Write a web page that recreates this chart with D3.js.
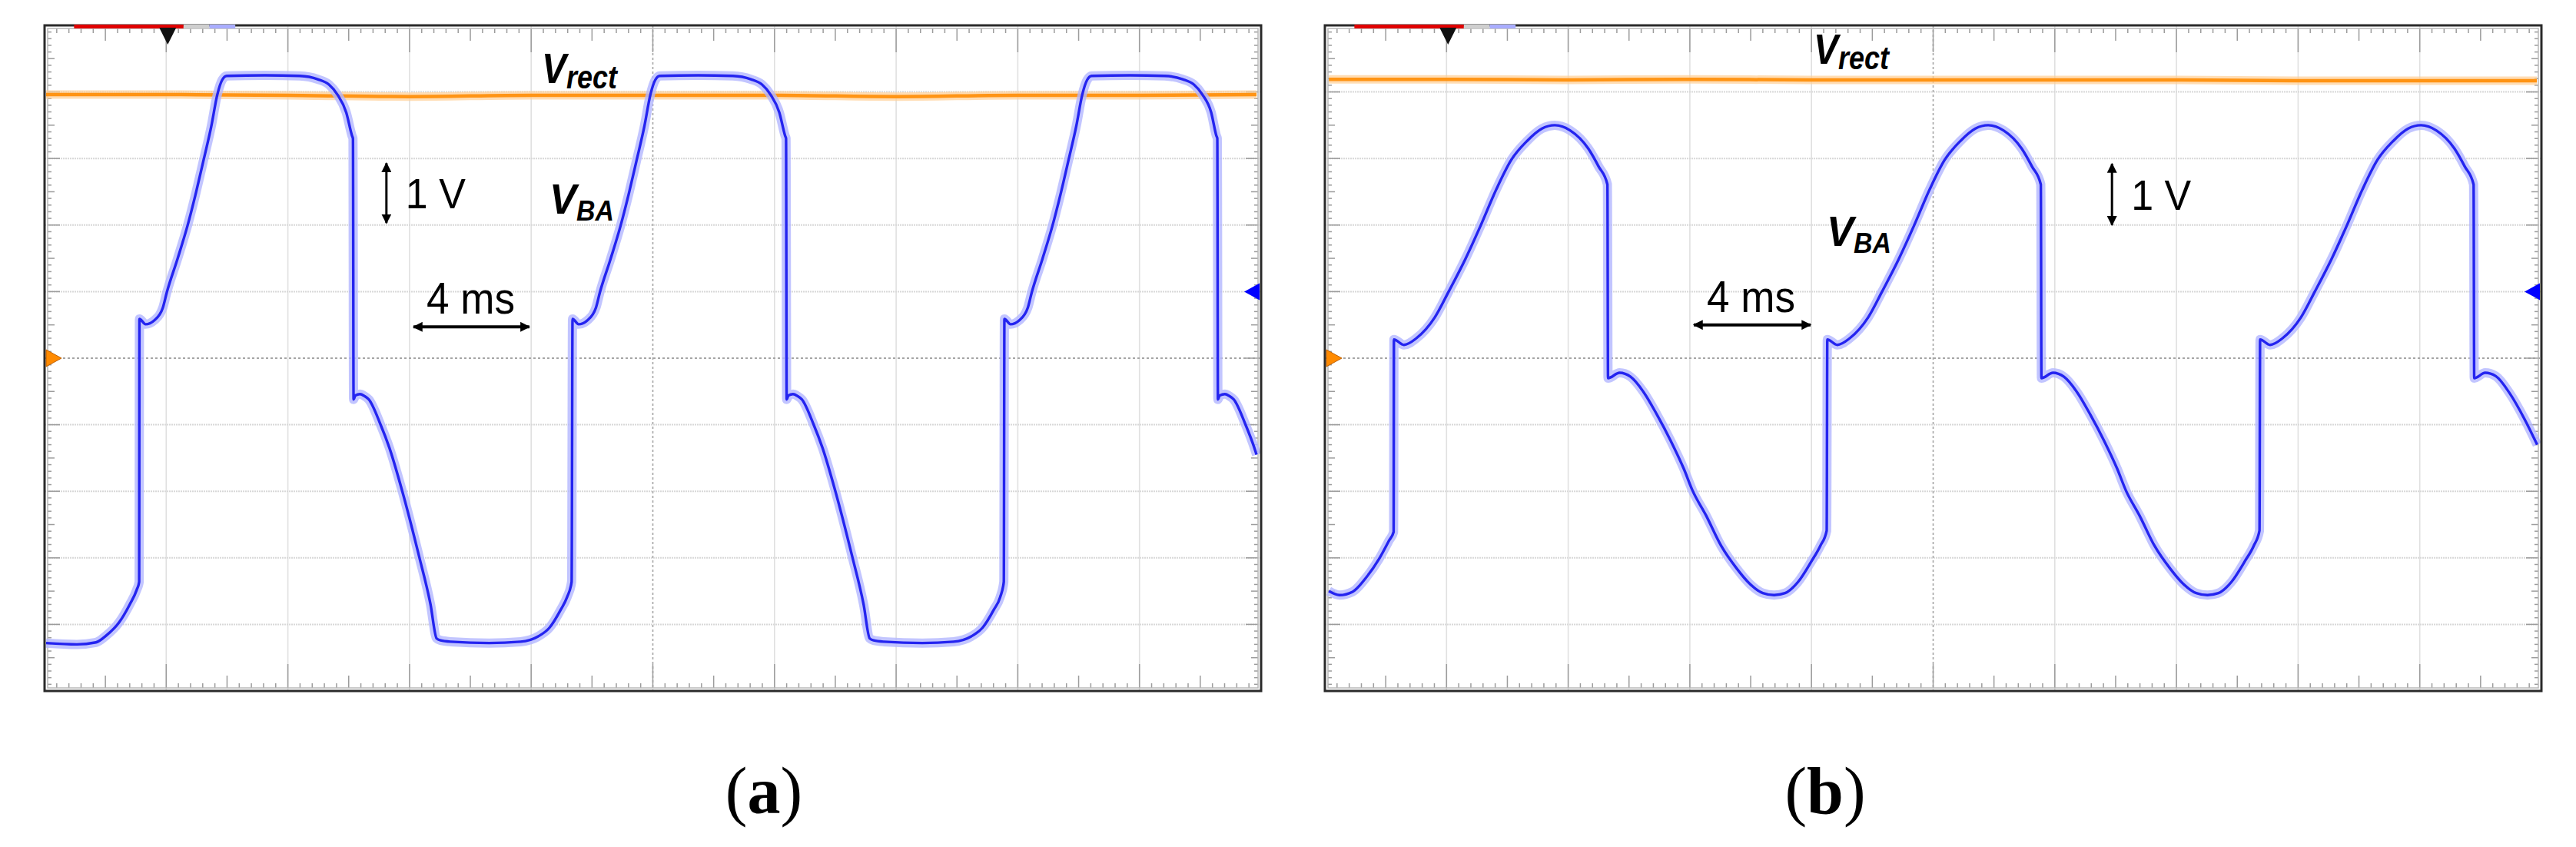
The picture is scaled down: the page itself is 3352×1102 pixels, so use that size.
<!DOCTYPE html>
<html>
<head>
<meta charset="utf-8">
<script src="https://cdn.jsdelivr.net/npm/d3@7"></script>
<style>
  body { margin: 0; background: #fff; }
  svg { display: block; }
</style>
</head>
<body>
<svg id="chart"></svg>
<script>
// scope traces, time in ms (4 ms/div), voltage in V (1 V/div), 0 V = centre line
const vbaA = [
  [0.05,-4.28],[1.06,-4.30],[1.69,-4.27],[2.02,-4.17],[2.45,-3.97],[2.80,-3.70],[3.03,-3.48],[3.11,-3.36],
  [3.12,0.59],[3.32,0.51],[3.61,0.57],[3.89,0.76],[4.02,0.99],[4.37,1.49],[4.70,1.99],[4.98,2.49],[5.23,2.98],
  [5.48,3.48],[5.68,3.96],[5.84,4.18],[5.99,4.24],[7.25,4.25],[8.39,4.24],[8.98,4.19],[9.35,4.11],[9.63,3.96],
  [9.92,3.69],[10.11,3.34],[10.14,3.30],
  [10.16,-0.62],[10.22,-0.56],[10.37,-0.54],[10.52,-0.57],[10.66,-0.62],[11.04,-0.99],[11.34,-1.35],[11.75,-1.98],
  [12.31,-2.97],[12.69,-3.70],[12.89,-4.21],[13.02,-4.24],[13.36,-4.26],[14.62,-4.28],[15.65,-4.26],
  [16.23,-4.18],[16.60,-4.05],[16.97,-3.78],[17.18,-3.59],[17.33,-3.36],
  [17.36,0.59],[17.56,0.51],[17.85,0.57],[18.13,0.76],[18.26,0.99],[18.61,1.49],[18.94,1.99],[19.22,2.49],[19.47,2.98],
  [19.72,3.48],[19.92,3.96],[20.08,4.18],[20.23,4.24],[21.49,4.25],[22.63,4.24],[23.22,4.19],[23.59,4.11],[23.87,3.96],
  [24.16,3.69],[24.35,3.34],[24.38,3.30],
  [24.40,-0.62],[24.46,-0.56],[24.61,-0.54],[24.76,-0.57],[24.90,-0.62],[25.28,-0.99],[25.58,-1.35],[25.99,-1.98],
  [26.55,-2.97],[26.93,-3.70],[27.13,-4.21],[27.26,-4.24],[27.60,-4.26],[28.86,-4.28],[29.89,-4.26],
  [30.47,-4.18],[30.84,-4.05],[31.21,-3.78],[31.42,-3.59],[31.54,-3.36],
  [31.56,0.59],[31.76,0.51],[32.05,0.57],[32.33,0.76],[32.46,0.99],[32.81,1.49],[33.14,1.99],[33.42,2.49],[33.67,2.98],
  [33.92,3.48],[34.12,3.96],[34.28,4.18],[34.43,4.24],[35.69,4.25],[36.83,4.24],[37.42,4.19],[37.79,4.11],[38.07,3.96],
  [38.36,3.69],[38.53,3.34],[38.56,3.30],
  [38.58,-0.62],[38.64,-0.56],[38.81,-0.54],[38.96,-0.57],[39.10,-0.62],[39.48,-0.99],[39.78,-1.35],[39.85,-1.45]
];
const vrectA = [
  [0.05,3.96],[4,3.96],[8,3.95],[12,3.93],[16,3.95],[20,3.95],[24,3.95],[28,3.93],[32,3.95],[36,3.95],[39.85,3.96]
];

const vbaB = [
  [0.13,-3.50],[0.48,-3.56],[0.91,-3.51],[1.35,-3.30],[1.79,-3.01],[2.11,-2.74],[2.26,-2.61],
  [2.27,0.28],[2.60,0.20],[3.01,0.30],[3.61,0.61],[4.07,1.00],[4.62,1.49],[5.12,1.99],[5.63,2.53],[6.13,2.98],
  [6.64,3.26],[7.14,3.45],[7.56,3.50],[8.07,3.42],[8.66,3.15],[9.00,2.88],[9.29,2.61],
  [9.31,-0.30],[9.69,-0.22],[10.05,-0.28],[10.48,-0.51],[10.92,-0.85],[11.37,-1.24],[11.80,-1.66],[12.09,-1.99],
  [12.53,-2.36],[13.03,-2.82],[13.54,-3.16],[13.97,-3.39],[14.40,-3.53],[14.77,-3.56],[15.13,-3.53],[15.56,-3.36],
  [16.00,-3.05],[16.29,-2.82],[16.50,-2.59],
  [16.52,0.28],[16.85,0.20],[17.26,0.30],[17.86,0.61],[18.32,1.00],[18.87,1.49],[19.37,1.99],[19.88,2.53],[20.38,2.98],
  [20.89,3.26],[21.39,3.45],[21.81,3.50],[22.32,3.42],[22.91,3.15],[23.25,2.88],[23.54,2.61],
  [23.56,-0.30],[23.94,-0.22],[24.30,-0.28],[24.73,-0.51],[25.17,-0.85],[25.62,-1.24],[26.05,-1.66],[26.34,-1.99],
  [26.78,-2.36],[27.28,-2.82],[27.79,-3.16],[28.22,-3.39],[28.65,-3.53],[29.02,-3.56],[29.38,-3.53],[29.81,-3.36],
  [30.25,-3.05],[30.54,-2.82],[30.73,-2.59],
  [30.75,0.28],[31.08,0.20],[31.49,0.30],[32.09,0.61],[32.55,1.00],[33.10,1.49],[33.60,1.99],[34.11,2.53],[34.61,2.98],
  [35.12,3.26],[35.62,3.45],[36.04,3.50],[36.55,3.42],[37.14,3.15],[37.48,2.88],[37.77,2.61],
  [37.79,-0.30],[38.15,-0.22],[38.50,-0.27],[38.96,-0.53],[39.45,-0.92],[39.86,-1.30]
];
const vrectB = [
  [0.13,4.19],[4,4.19],[8,4.18],[12,4.19],[16,4.18],[20,4.18],[24,4.18],[28,4.18],[32,4.17],[36,4.17],[39.85,4.17]
];

// grid divisions
const xDivs = d3.range(0, 11).map(i => i * 4);   // ms
const yDivs = d3.range(-5, 6);                   // V
const statusBars = [[0.97, 4.57, "#e00000"], [4.57, 5.42, "#cfcfcf"], [5.42, 6.27, "#a9adff"]];
const triggerT = 4.05;

const panels = [
  { left: 58, right: 1641, vba: vbaA, vrect: vrectA, caption: "a", capX: 994,
    vrectLab: [16.35, 4.13], vbaLab: [16.60, 2.17], oneV: [11.24, 2.03, 2.93], fourMs: [12.13, 15.94, 0.47] },
  { left: 1724, right: 3307, vba: vbaB, vrect: vrectB, caption: "b", capX: 2375,
    vrectLab: [16.07, 4.42], vbaLab: [16.50, 1.69], oneV: [25.88, 2.00, 2.92], fourMs: [12.13, 15.97, 0.50] }
];

const plotTop = 33, plotBottom = 899;

const svg = d3.select("#chart").attr("width", 3352).attr("height", 1102);
svg.append("rect").attr("width", 3352).attr("height", 1102).attr("fill", "#fff");

const defs = svg.append("defs");
defs.append("marker")
  .attr("id", "ahead")
  .attr("viewBox", "0 0 10 10")
  .attr("refX", 9).attr("refY", 5)
  .attr("markerWidth", 13).attr("markerHeight", 13)
  .attr("markerUnits", "userSpaceOnUse")
  .attr("orient", "auto-start-reverse")
  .append("path").attr("d", "M0,0 L10,5 L0,10 z").attr("fill", "#000");

panels.forEach((p, pi) => {
  const x = d3.scaleLinear().domain([0, 40]).range([p.left, p.right]);
  const y = d3.scaleLinear().domain([-5, 5]).range([plotBottom, plotTop]);
  const g = svg.append("g");

  defs.append("clipPath").attr("id", "clip" + pi)
    .append("rect").attr("x", p.left).attr("y", plotTop)
    .attr("width", p.right - p.left).attr("height", plotBottom - plotTop);

  // grid
  g.selectAll(".vg").data(xDivs.slice(1, -1)).join("line")
    .attr("x1", d => x(d)).attr("x2", d => x(d))
    .attr("y1", plotTop).attr("y2", plotBottom)
    .attr("stroke", d => (d === 20 ? "#a5a5a5" : "#e0e0e0"))
    .attr("stroke-width", 1.6)
    .attr("stroke-dasharray", d => (d === 20 ? "3,3" : null));
  g.selectAll(".hg").data(yDivs.slice(1, -1)).join("line")
    .attr("x1", p.left).attr("x2", p.right)
    .attr("y1", d => y(d)).attr("y2", d => y(d))
    .attr("stroke", d => (d === 0 ? "#a5a5a5" : "#d8d8d8"))
    .attr("stroke-width", 2)
    .attr("stroke-dasharray", d => (d === 0 ? "3,3" : "2,1"));

  // edge ticks
  const ins = 4;
  const steps = d3.range(0, 101);
  const xLen = i => (i % 10 === 0 ? 31 : i % 5 === 0 ? 16 : 6);
  g.selectAll(".tt").data(steps).join("line")
    .attr("x1", i => x(i * 0.4)).attr("x2", i => x(i * 0.4))
    .attr("y1", plotTop + ins).attr("y2", i => plotTop + ins + xLen(i))
    .attr("stroke", "#9c9c9c").attr("stroke-width", 1.5);
  g.selectAll(".bt").data(steps).join("line")
    .attr("x1", i => x(i * 0.4)).attr("x2", i => x(i * 0.4))
    .attr("y1", plotBottom - ins).attr("y2", i => plotBottom - ins - xLen(i))
    .attr("stroke", "#9c9c9c").attr("stroke-width", 1.5);
  const yLen = i => (i % 10 === 0 ? 16 : i % 5 === 0 ? 9 : 5);
  g.selectAll(".lt").data(steps).join("line")
    .attr("y1", i => y(-5 + i * 0.1)).attr("y2", i => y(-5 + i * 0.1))
    .attr("x1", p.left + ins).attr("x2", i => p.left + ins + yLen(i))
    .attr("stroke", "#9c9c9c").attr("stroke-width", 1.5);
  g.selectAll(".rt").data(steps).join("line")
    .attr("y1", i => y(-5 + i * 0.1)).attr("y2", i => y(-5 + i * 0.1))
    .attr("x1", p.right - ins).attr("x2", i => p.right - ins - yLen(i))
    .attr("stroke", "#9c9c9c").attr("stroke-width", 1.5);

  g.append("rect")
    .attr("x", p.left + ins).attr("y", plotTop + ins)
    .attr("width", p.right - p.left - 2 * ins).attr("height", plotBottom - plotTop - 2 * ins)
    .attr("fill", "none").attr("stroke", "#b8b8b8").attr("stroke-width", 1.5);

  // traces
  const line = d3.line().x(d => x(d[0])).y(d => y(d[1])).curve(d3.curveMonotoneX);
  const tr = g.append("g").attr("clip-path", `url(#clip${pi})`);
  tr.append("path").datum(p.vrect).attr("d", line)
    .attr("fill", "none").attr("stroke", "#ffcf94").attr("stroke-width", 11).attr("opacity", 0.7);
  tr.append("path").datum(p.vrect).attr("d", line)
    .attr("fill", "none").attr("stroke", "#ff9414").attr("stroke-width", 4.5);
  tr.append("path").datum(p.vba).attr("d", line)
    .attr("fill", "none").attr("stroke", "#b3b6ff").attr("stroke-width", 12)
    .attr("stroke-linejoin", "round").attr("opacity", 0.8);
  tr.append("path").datum(p.vba).attr("d", line)
    .attr("fill", "none").attr("stroke", "#2424f0").attr("stroke-width", 3.4)
    .attr("stroke-linejoin", "round");

  // frame
  g.append("rect")
    .attr("x", p.left).attr("y", plotTop)
    .attr("width", p.right - p.left).attr("height", plotBottom - plotTop)
    .attr("fill", "none").attr("stroke", "#2a2a2a").attr("stroke-width", 3);

  // status bars and trigger mark
  g.selectAll(".sb").data(statusBars).join("rect")
    .attr("x", d => x(d[0])).attr("width", d => x(d[1]) - x(d[0]))
    .attr("y", plotTop - 1).attr("height", 5)
    .attr("fill", d => d[2]);
  const tx = x(triggerT);
  g.append("path")
    .attr("d", `M${tx - 11},${plotTop + 3} L${tx + 11},${plotTop + 3} L${tx},${plotTop + 25} Z`)
    .attr("fill", "#111");

  // channel reference markers
  const y0 = y(0), y1 = y(1);
  g.append("path")
    .attr("d", `M${p.left + 2},${y0 - 11} L${p.left + 2},${y0 + 11} L${p.left + 22},${y0} Z`)
    .attr("fill", "#ff8a00").attr("stroke", "#c06000").attr("stroke-width", 1);
  g.append("path")
    .attr("d", `M${p.right - 2},${y1 - 11} L${p.right - 2},${y1 + 11} L${p.right - 22},${y1} Z`)
    .attr("fill", "#0000ff");

  // labels
  const lab = (pos, main, sub, subDy, subSize, width) => {
    const t = g.append("text")
      .attr("x", x(pos[0])).attr("y", y(pos[1]))
      .attr("font-family", "'Liberation Sans', Arial, sans-serif")
      .attr("font-weight", "bold").attr("font-style", "italic")
      .attr("font-size", 56).attr("fill", "#000")
      .attr("textLength", width).attr("lengthAdjust", "spacingAndGlyphs");
    t.append("tspan").text(main);
    t.append("tspan").attr("dy", subDy).attr("font-size", subSize).text(sub);
  };
  lab(p.vrectLab, "V", "rect", 7, 42, 98);
  lab(p.vbaLab, "V", "BA", 9, 36, 84);

  // 1 V scale arrow
  const [ax, av1, av2] = p.oneV;
  g.append("line")
    .attr("x1", x(ax)).attr("x2", x(ax)).attr("y1", y(av1)).attr("y2", y(av2))
    .attr("stroke", "#000").attr("stroke-width", 3)
    .attr("marker-start", "url(#ahead)").attr("marker-end", "url(#ahead)");
  g.append("text")
    .attr("x", x(ax) + 25).attr("y", y((av1 + av2) / 2) + 20)
    .attr("font-family", "'Liberation Sans', Arial, sans-serif")
    .attr("font-size", 56).attr("textLength", 78).attr("lengthAdjust", "spacingAndGlyphs")
    .text("1 V");

  // 4 ms scale arrow
  const [m1, m2, mv] = p.fourMs;
  g.append("line")
    .attr("x1", x(m1)).attr("x2", x(m2)).attr("y1", y(mv)).attr("y2", y(mv))
    .attr("stroke", "#000").attr("stroke-width", 4)
    .attr("marker-start", "url(#ahead)").attr("marker-end", "url(#ahead)");
  g.append("text")
    .attr("x", x(m1) + 17).attr("y", y(mv) - 17)
    .attr("font-family", "'Liberation Sans', Arial, sans-serif")
    .attr("font-size", 57).attr("textLength", 115).attr("lengthAdjust", "spacingAndGlyphs")
    .text("4 ms");

  // caption
  const c = svg.append("text")
    .attr("x", p.capX).attr("y", 1058)
    .attr("text-anchor", "middle")
    .attr("font-family", "'Liberation Serif', 'Times New Roman', serif")
    .attr("font-size", 86).attr("fill", "#000");
  c.append("tspan").text("(");
  c.append("tspan").attr("font-weight", "bold").text(p.caption);
  c.append("tspan").text(")");
});
</script>
</body>
</html>
